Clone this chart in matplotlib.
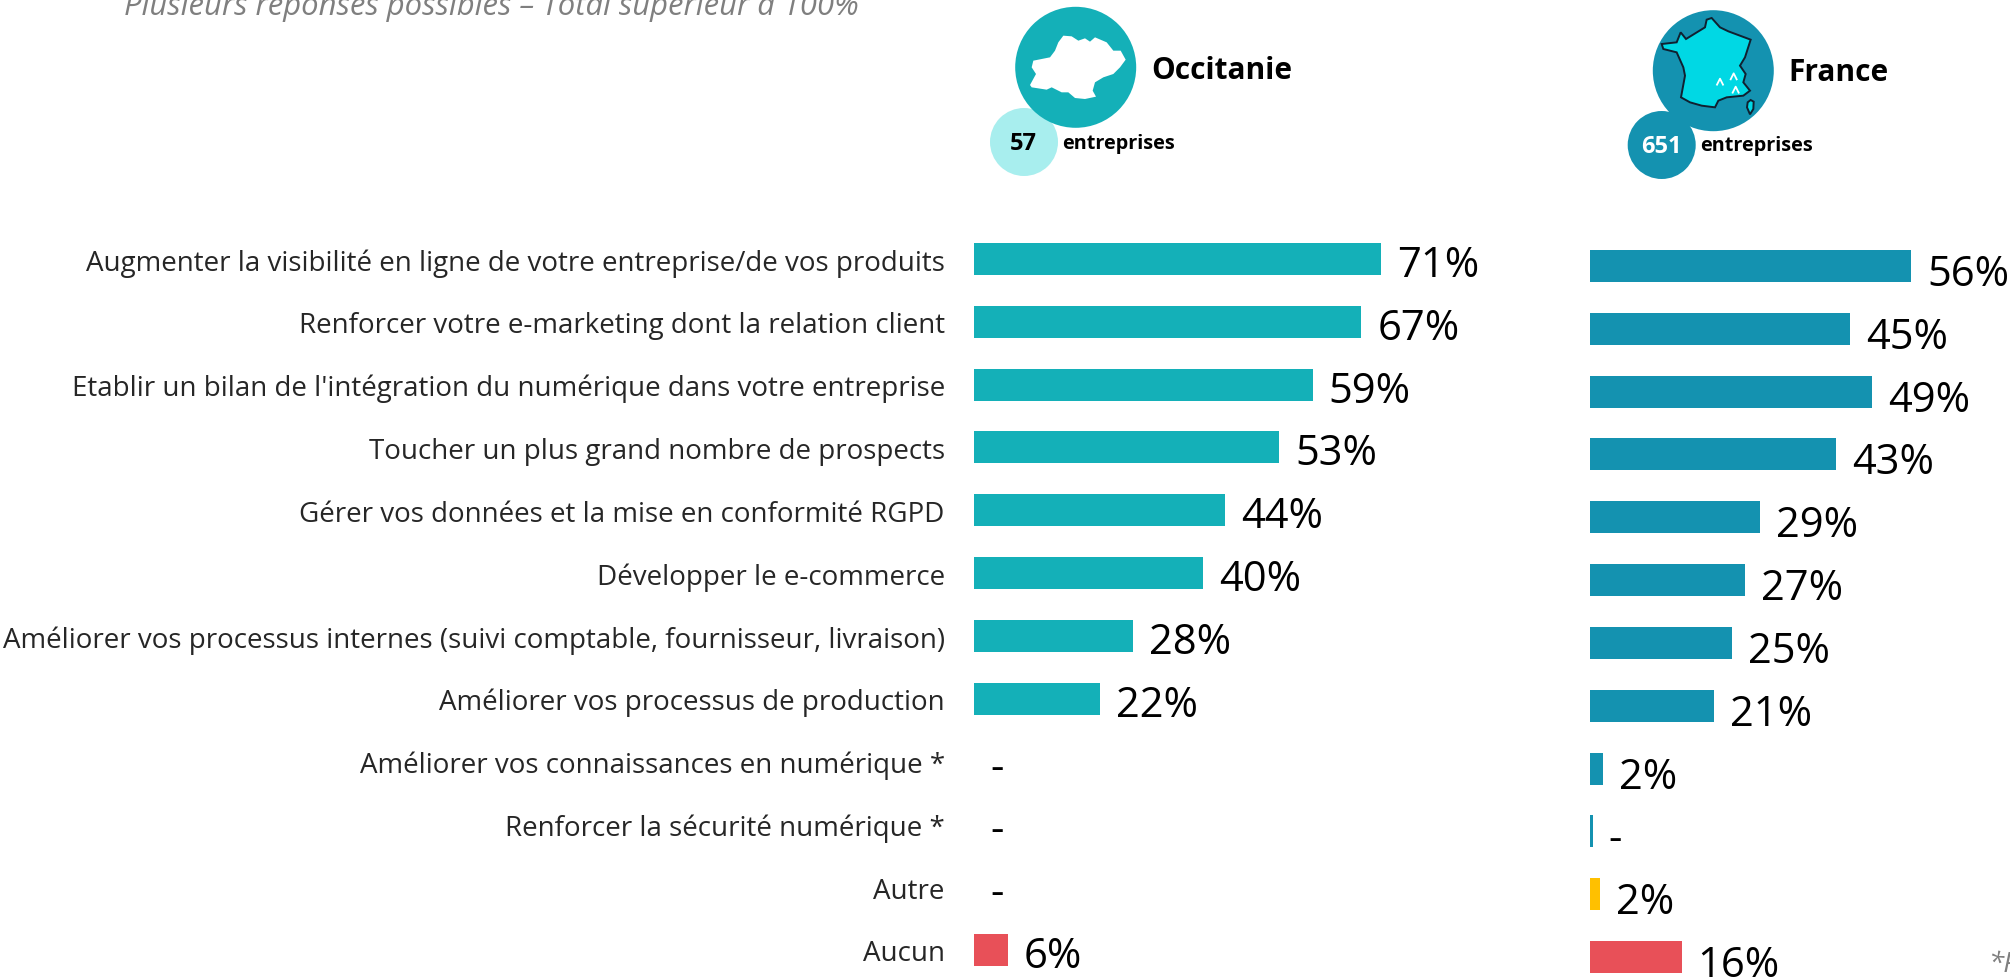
import numpy as np
import matplotlib
matplotlib.use("Agg")
import matplotlib.pyplot as plt
from matplotlib.patches import Circle, Polygon

plt.rcParams['font.family'] = ['Open Sans', 'DejaVu Sans']

W, H = 2010, 978

categories = [
    "Augmenter la visibilité en ligne de votre entreprise/de vos produits",
    "Renforcer votre e-marketing dont la relation client",
    "Etablir un bilan de l'intégration du numérique dans votre entreprise",
    "Toucher un plus grand nombre de prospects",
    "Gérer vos données et la mise en conformité RGPD",
    "Développer le e-commerce",
    "Améliorer vos processus internes (suivi comptable, fournisseur, livraison)",
    "Améliorer vos processus de production",
    "Améliorer vos connaissances en numérique *",
    "Renforcer la sécurité numérique *",
    "Autre",
    "Aucun",
]

# bar lengths as measured on the picture, labels as printed
occ_values = [71, 67.6, 59.1, 53.3, 43.8, 39.9, 27.8, 22, 0, 0, 0, 5.9]
occ_labels = ["71%", "67%", "59%", "53%", "44%", "40%", "28%", "22%", "-", "-", "-", "6%"]
fr_values = [56, 45.4, 49.2, 43, 29.7, 27, 24.8, 21.6, 2.3, 0.5, 1.8, 16]
fr_labels = ["56%", "45%", "49%", "43%", "29%", "27%", "25%", "21%", "2%", "-", "2%", "16%"]

TEAL = "#14B0B8"
BLUE = "#1492B0"
RED = "#E85058"
YELLOW = "#FFC000"
LIGHT = "#A8EEEE"

occ_colors = [TEAL] * 11 + [RED]
fr_colors = [BLUE] * 10 + [YELLOW, RED]

PX_PER_PCT = 5.73


def bar_axes(fig, x0, x1, y_first, y_last):
    # row -1 at top of the axes, row 12 below the last bar
    step = (y_last - y_first) / 11
    top = y_first - step
    bottom = y_last + step
    ax = fig.add_axes([x0 / W, 1 - bottom / H, (x1 - x0) / W, (bottom - top) / H])
    ax.set_xlim(0, (x1 - x0) / PX_PER_PCT)
    ax.set_ylim(12, -1)
    ax.patch.set_alpha(0)
    for s in ax.spines.values():
        s.set_visible(False)
    ax.set_xticks([])
    ax.tick_params(axis='y', length=0)
    return ax


def draw_bars(ax, values, labels, colors, gap, dy):
    y = np.arange(len(values))
    ax.barh(y, values, height=0.51, color=colors)
    for i, (v, lab) in enumerate(zip(values, labels)):
        ax.annotate(lab, (v, i), xytext=(gap, dy), textcoords='offset pixels',
                    va='center', ha='left', fontsize=30, color='black',
                    annotation_clip=False)


fig = plt.figure(figsize=(W / 100, H / 100), dpi=100, facecolor='white')

ax1 = bar_axes(fig, 974, 1530, 260, 951)
draw_bars(ax1, occ_values, occ_labels, occ_colors, 16, -6)
ax1.set_yticks(np.arange(len(categories)))
ax1.set_yticklabels(categories, fontsize=20, color='#262626')
ax1.tick_params(axis='y', pad=21)

ax2 = bar_axes(fig, 1590, 2010, 267, 958)
ax2.set_yticks([])
draw_bars(ax2, fr_values, fr_labels, fr_colors, 16, -8)

# header badges, in pixel coordinates
ov = fig.add_axes([0, 0, 1, 1], zorder=5)
ov.set_xlim(0, W)
ov.set_ylim(H, 0)
ov.axis('off')

ov.add_patch(Circle((1024, 143), 34, color=LIGHT, lw=0))
ov.add_patch(Circle((1075.7, 68.3), 60.5, color=TEAL, lw=0))
ov.add_patch(Circle((1661.7, 146), 34, color=BLUE, lw=0))
ov.add_patch(Circle((1713.3, 71.7), 60.5, color=BLUE, lw=0))

occ_shape = np.array([(340, 110), (365, 112), (385, 125), (405, 118), (420, 128), (435, 115),
                      (470, 130), (490, 155), (512, 155), (527, 182), (510, 205), (490, 225),
                      (460, 235), (435, 250), (428, 275), (438, 293), (405, 300), (375, 297),
                      (355, 280), (335, 280), (305, 265), (290, 272), (245, 265), (240, 258),
                      (258, 225), (245, 205), (250, 185), (300, 175), (315, 155), (325, 130)]) / 3
ov.add_patch(Polygon(occ_shape + (950, 0), closed=True, color='white', lw=0))

fr_shape = np.array([(395, 57), (420, 85), (445, 97), (512, 122), (495, 175), (480, 200),
                     (497, 225), (490, 250), (510, 275), (490, 290), (440, 295), (415, 305),
                     (405, 325), (365, 320), (330, 310), (303, 295), (315, 230), (310, 205),
                     (290, 160), (250, 150), (245, 135), (290, 130), (302, 100), (318, 120),
                     (375, 85), (380, 62)]) / 3
corsica = np.array([(512, 303), (521, 308), (520, 330), (510, 346), (501, 325), (503, 310)]) / 3
for shape in (fr_shape, corsica):
    ov.add_patch(Polygon(shape + (1580, 0), closed=True, facecolor='#00D8E4', edgecolor='#102030', lw=1.4))
for cx, cy in [(420, 248), (461, 232), (467, 272)]:
    px = 1580 + cx / 3
    py = cy / 3
    ov.plot([px - 3, px, px + 3], [py + 3, py - 3, py + 3], color='white', lw=1.3)

ov.text(1151, 71, "Occitanie", fontsize=21.5, fontweight='bold', va='center', ha='left', color='black')
ov.text(1023, 144, "57", fontsize=17, fontweight='bold', va='center', ha='center', color='black')
ov.text(1062, 144, "entreprises", fontsize=14.3, fontweight='bold', va='center', ha='left', color='black')
ov.text(1788, 73, "France", fontsize=21.5, fontweight='bold', va='center', ha='left', color='black')
ov.text(1661, 147, "651", fontsize=17, fontweight='bold', va='center', ha='center', color='white')
ov.text(1700, 146, "entreprises", fontsize=14.3, fontweight='bold', va='center', ha='left', color='black')

ov.text(124, 7, "Plusieurs réponses possibles – Total supérieur à 100%", fontsize=22.3,
        style='italic', va='center', ha='left', color='#7F7F7F')
ov.text(1988, 965, "*P", fontsize=20, style='italic', va='center', ha='left', color='#7F7F7F')

fig.savefig("out.png", dpi=100)
